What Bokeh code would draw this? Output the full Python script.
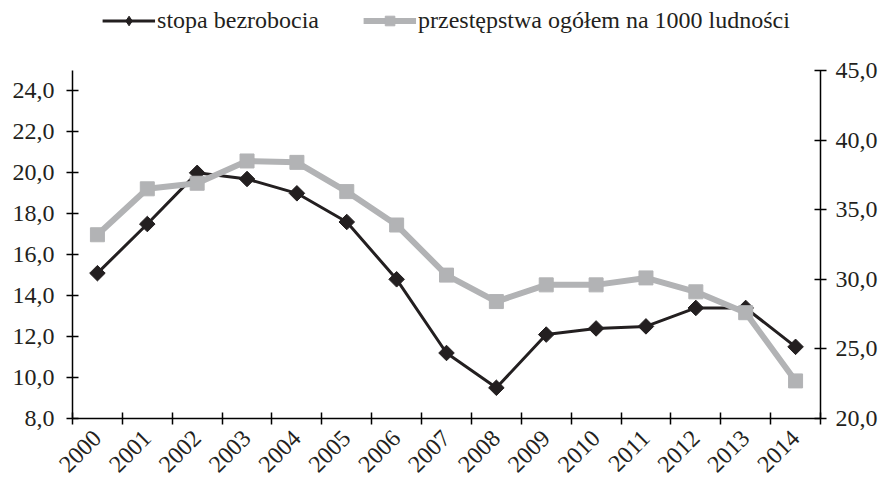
import math
from bokeh.plotting import figure
from bokeh.layouts import column
from bokeh.models import Range1d, LinearAxis, FixedTicker, Legend, LegendItem, ColumnDataSource
from bokeh.embed import file_html
from bokeh.resources import INLINE

years = ["2000", "2001", "2002", "2003", "2004", "2005", "2006", "2007",
         "2008", "2009", "2010", "2011", "2012", "2013", "2014"]
unemployment = [15.1, 17.5, 20.0, 19.7, 19.0, 17.6, 14.8, 11.2, 9.5, 12.1,
                12.4, 12.5, 13.4, 13.4, 11.5]
crime = [33.2, 36.5, 36.9, 38.5, 38.4, 36.3, 33.9, 30.3, 28.4, 29.6,
         29.6, 30.1, 29.1, 27.6, 22.7]
left_ticks = [8, 10, 12, 14, 16, 18, 20, 22, 24]
left_labels = ["8,0", "10,0", "12,0", "14,0", "16,0", "18,0", "20,0", "22,0", "24,0"]
right_ticks = [20, 25, 30, 35, 40, 45]
right_labels = ["20,0", "25,0", "30,0", "35,0", "40,0", "45,0"]
series_names = ["stopa bezrobocia", "przestępstwa ogółem na 1000 ludności"]

FONT = "Liberation Serif"
FS = "24px"
TXT = "#231f20"
BLACK = "#231f20"
GRAY = "#b2b3b5"

n = len(years)
xs = [i + 0.5 for i in range(n)]
src = ColumnDataSource(dict(x=xs, u=unemployment, c=crime))

# ---------------- main chart ----------------
p = figure(width=884, height=442, output_backend="svg", toolbar_location=None,
           x_range=Range1d(0, n), y_range=Range1d(8, 25),
           min_border_left=72, min_border_right=64, min_border_top=30, min_border_bottom=64)
p.extra_y_ranges = {"right": Range1d(20, 45)}
p.outline_line_color = None
p.xgrid.visible = False
p.ygrid.visible = False

xa = p.xaxis[0]
xa.ticker = FixedTicker(ticks=xs, minor_ticks=list(range(n + 1)))
xa.major_label_overrides = {x: y for x, y in zip(xs, years)}
xa.major_tick_line_color = None
xa.major_tick_in = 0
xa.major_tick_out = 6
xa.minor_tick_in = 6
xa.minor_tick_out = 6
xa.major_label_orientation = math.pi / 4
xa.major_label_standoff = 10

ya = p.yaxis[0]
ya.ticker = FixedTicker(ticks=left_ticks, minor_ticks=[])
ya.major_label_overrides = {t: l for t, l in zip(left_ticks, left_labels)}
ya.major_label_standoff = 12

ra = LinearAxis(y_range_name="right", ticker=FixedTicker(ticks=right_ticks, minor_ticks=[]))
ra.major_label_overrides = {t: l for t, l in zip(right_ticks, right_labels)}
ra.major_label_standoff = 9
p.add_layout(ra, "right")

for ax in [xa, ya, ra]:
    ax.axis_line_color = "black"
    ax.axis_line_width = 1.5
    ax.major_label_text_font = FONT
    ax.major_label_text_font_size = FS
    ax.major_label_text_color = TXT
xa.minor_tick_line_color = "black"
xa.minor_tick_line_width = 1.5
for ax in [ya, ra]:
    ax.minor_tick_line_color = None
    ax.major_tick_in = 6
    ax.major_tick_out = 6
    ax.major_tick_line_color = "black"
    ax.major_tick_line_width = 1.5

line_u = dict(line_color=BLACK, line_width=3)
mark_u = dict(marker="square", angle=math.pi / 4, size=11, fill_color=BLACK, line_color=BLACK)
line_c = dict(line_color=GRAY, line_width=6)
mark_c = dict(marker="square", size=14, fill_color=GRAY, line_color=GRAY)

p.line("x", "u", source=src, **line_u)
p.scatter("x", "u", source=src, **mark_u)
p.line("x", "c", source=src, y_range_name="right", **line_c)
p.scatter("x", "c", source=src, y_range_name="right", **mark_c)

# ---------------- legend strip ----------------
lg = figure(width=884, height=40, output_backend="svg", toolbar_location=None,
            x_axis_type=None, y_axis_type=None,
            x_range=Range1d(0, 1), y_range=Range1d(0, 1),
            min_border_left=0, min_border_right=0, min_border_top=0, min_border_bottom=0)
lg.outline_line_color = None
lg.xgrid.visible = False
lg.ygrid.visible = False
# placeholder source lying outside the strip's ranges: only the legend glyphs show
dummy = ColumnDataSource(dict(x=[-5, -6], y=[-5, -6]))
r1 = lg.line("x", "y", source=dummy, **line_u)
r2 = lg.scatter("x", "y", source=dummy, marker="diamond", size=17,
                fill_color=BLACK, line_color=BLACK)
r3 = lg.line("x", "y", source=dummy, **line_c)
r4 = lg.scatter("x", "y", source=dummy, **mark_c)

legend = Legend(items=[LegendItem(label=series_names[0], renderers=[r1, r2]),
                       LegendItem(label=series_names[1], renderers=[r3, r4])],
                orientation="horizontal", location="center",
                label_text_font=FONT, label_text_font_size=FS, label_text_color=TXT,
                glyph_width=53, glyph_height=24, label_standoff=2, spacing=44,
                border_line_color=None, background_fill_alpha=0, padding=0, margin=0)
lg.add_layout(legend, "center")

layout = column(lg, p, spacing=0)
open("out.html", "w").write(file_html(layout, INLINE))
